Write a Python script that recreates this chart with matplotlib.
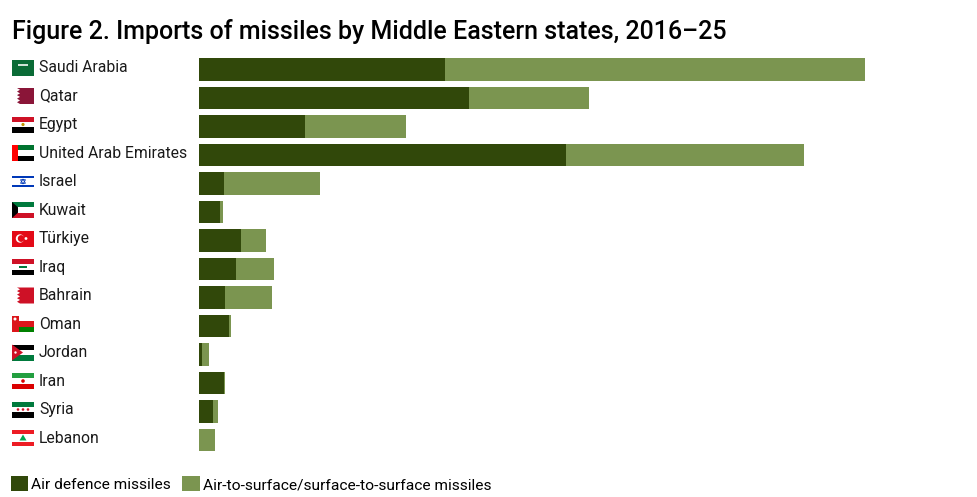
import numpy as np
import matplotlib
matplotlib.use("Agg")
import matplotlib.pyplot as plt
from matplotlib.patches import Rectangle, Polygon, Ellipse

# Values (arbitrary units, same scale for all bars)
countries = ["Saudi Arabia", "Qatar", "Egypt", "United Arab Emirates", "Israel",
             "Kuwait", "Türkiye", "Iraq", "Bahrain", "Oman", "Jordan", "Iran",
             "Syria", "Lebanon"]
air_defence = [246, 270, 106, 367, 25, 21, 42, 37, 26, 30, 3, 25, 14, 0]
surface = [420, 120, 101, 238, 96, 3, 25, 38, 47, 2, 7, 1, 5, 16]

DARK = "#31480a"
LIGHT = "#7b9550"
FONT = "Roboto"

W, H = 977, 497
fig = plt.figure(figsize=(W / 100, H / 100), dpi=100)

top = 1 - 55.25 / H
bottom = 1 - 454.25 / H
ax = fig.add_axes([199 / W, bottom, 700 / W, top - bottom])

y = np.arange(len(countries))
ax.barh(y, air_defence, height=0.8, color=DARK, label="Air defence missiles")
ax.barh(y, surface, left=air_defence, height=0.8, color=LIGHT,
        label="Air-to-surface/surface-to-surface missiles")
ax.set_xlim(0, 700)
ax.set_ylim(len(countries) - 0.5, -0.5)
ax.axis("off")

# axis for flags and names, x in pixels, y shared with the bars
fx = fig.add_axes([0, bottom, 199 / W, top - bottom], sharey=ax)
fx.set_xlim(0, 199)
fx.axis("off")

PX = 1 / 28.5  # one pixel in y units
FW, FH = 22, 16 * PX
X0 = 12


def stripes(yc, colors, x0=X0, w=FW):
    # colors listed from top to bottom (y axis is inverted)
    n = len(colors)
    for k, c in enumerate(colors):
        fx.add_patch(Rectangle((x0, yc - FH / 2 + k * FH / n), w, FH / n,
                               color=c, lw=0))


def serrated(yc, color, xs):
    # white hoist with a zigzag edge
    fx.add_patch(Rectangle((X0, yc - FH / 2), FW, FH, color="white", lw=0))
    pts = [(X0 + FW, yc - FH / 2)]
    n = 9
    for k in range(n + 1):
        yy = yc - FH / 2 + k * FH / n
        pts.append((xs + (3 if k % 2 else 0), yy))
    pts.append((X0 + FW, yc + FH / 2))
    fx.add_patch(Polygon(pts, closed=True, color=color, lw=0))


def dot(xc, yc, r, color):
    fx.add_patch(Ellipse((xc, yc), 2 * r, 2 * r * PX, color=color, lw=0))


def draw_flag(name, yc):
    if name == "Saudi Arabia":
        stripes(yc, ["#0a6b36"])
        fx.add_patch(Rectangle((X0 + 6, yc - 4 * PX), 10, 2.5 * PX, color="#cfe3d6", lw=0))
        fx.add_patch(Rectangle((X0 + 7, yc + 2 * PX), 8, 0.6 * PX, color="#cfe3d6", lw=0))
    elif name == "Qatar":
        serrated(yc, "#8a1538", X0 + 5)
    elif name == "Egypt":
        stripes(yc, ["#ce1126", "white", "black"])
        dot(X0 + FW / 2, yc, 1.6, "#c09300")
    elif name == "United Arab Emirates":
        stripes(yc, ["#00732f", "white", "black"])
        fx.add_patch(Rectangle((X0, yc - FH / 2), 6, FH, color="#ff0000", lw=0))
    elif name == "Israel":
        stripes(yc, ["white"])
        for dy in (-5.5, 3.5):
            fx.add_patch(Rectangle((X0, yc + dy * PX), FW, 2 * PX, color="#0038b8", lw=0))
        fx.add_patch(Polygon([(X0 + 11, yc - 2.5 * PX), (X0 + 8.5, yc + 1.8 * PX),
                              (X0 + 13.5, yc + 1.8 * PX)], fill=False, ec="#0038b8", lw=0.6))
        fx.add_patch(Polygon([(X0 + 11, yc + 2.5 * PX), (X0 + 8.5, yc - 1.8 * PX),
                              (X0 + 13.5, yc - 1.8 * PX)], fill=False, ec="#0038b8", lw=0.6))
    elif name == "Kuwait":
        stripes(yc, ["#007a3d", "white", "#ce1126"])
        fx.add_patch(Polygon([(X0, yc - FH / 2), (X0 + 6, yc - FH / 6), (X0 + 6, yc + FH / 6),
                              (X0, yc + FH / 2)], color="black", lw=0))
    elif name == "Türkiye":
        stripes(yc, ["#e30a17"])
        dot(X0 + 8, yc, 4.2, "white")
        dot(X0 + 9.2, yc, 3.4, "#e30a17")
        dot(X0 + 14, yc, 1.4, "white")
    elif name == "Iraq":
        stripes(yc, ["#ce1126", "white", "black"])
        fx.add_patch(Rectangle((X0 + 7, yc - 0.7 * PX), 8, 1.4 * PX, color="#007a3d", lw=0))
    elif name == "Bahrain":
        serrated(yc, "#ce1126", X0 + 5)
    elif name == "Oman":
        stripes(yc, ["white", "#db161b", "#008000"])
        fx.add_patch(Rectangle((X0, yc - FH / 2), 7, FH, color="#db161b", lw=0))
        dot(X0 + 3, yc - 5 * PX, 1.5, "white")
    elif name == "Jordan":
        stripes(yc, ["black", "white", "#007a3d"])
        fx.add_patch(Polygon([(X0, yc - FH / 2), (X0 + 11, yc), (X0, yc + FH / 2)],
                             color="#ce1126", lw=0))
        dot(X0 + 3.5, yc, 1.2, "white")
    elif name == "Iran":
        stripes(yc, ["#239f40", "white", "#da0000"])
        dot(X0 + FW / 2, yc, 1.8, "#da0000")
    elif name == "Syria":
        stripes(yc, ["#007a3d", "white", "black"])
        for dx in (-5, 0, 5):
            dot(X0 + FW / 2 + dx, yc, 1.3, "#ce1126")
    elif name == "Lebanon":
        stripes(yc, ["#ed1c24", "white", "white", "#ed1c24"])
        fx.add_patch(Polygon([(X0 + 11, yc - 3.5 * PX), (X0 + 7.5, yc + 2.5 * PX),
                              (X0 + 14.5, yc + 2.5 * PX)], color="#00a651", lw=0))


for i, name in enumerate(countries):
    yc = y[i] - 0.07
    draw_flag(name, yc)
    fx.text(39, yc, name, fontsize=11.3, family=FONT, color="#1a1a1a",
            va="center", ha="left")

fig.text(12 / W, 1 - 39 / H, "Figure 2. Imports of missiles by Middle Eastern states, 2016–25",
         fontsize=18, family=FONT, weight="medium", color="black", va="baseline")

fig.legend(loc="lower left", bbox_to_anchor=(11 / W, 5 / H), ncol=2, frameon=False,
           handlelength=1.1, handleheight=1.1, handletextpad=0.2, columnspacing=0.75,
           borderpad=0, borderaxespad=0, prop={"family": FONT, "size": 11.15})

fig.savefig("out.png", dpi=100, facecolor="white")
